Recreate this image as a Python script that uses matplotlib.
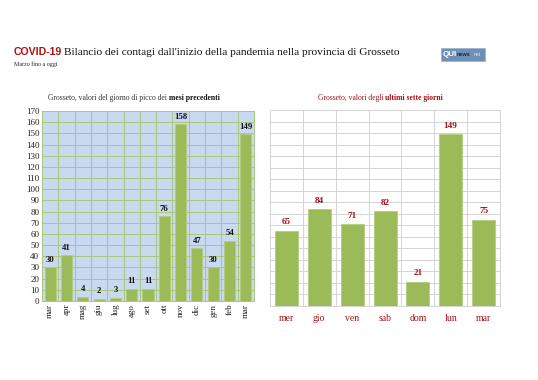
import matplotlib
matplotlib.use("Agg")
import matplotlib.pyplot as plt
import numpy as np
from matplotlib.patches import FancyBboxPatch

months = ["mar", "apr", "mag", "giu", "lug", "ago", "set", "ott", "nov", "dic", "gen", "feb", "mar"]
month_vals = [30, 41, 4, 2, 3, 11, 11, 76, 158, 47, 30, 54, 149]
days = ["mer", "gio", "ven", "sab", "dom", "lun", "mar"]
day_vals = [65, 84, 71, 82, 21, 149, 75]
yticks = list(range(0, 171, 10))

serif = "Liberation Serif"
bar_c = "#9bbb59"
red = "#a50f15"

fig = plt.figure(figsize=(5.38, 3.8), dpi=100)
fig.patch.set_facecolor("white")

# Titles
fig.text(14/538, 1-55/380, "COVID-19", fontsize=7.6, fontweight="bold", color="#b01010",
         family="Liberation Sans", va="baseline")
fig.text(64/538, 1-55/380, "Bilancio dei contagi dall'inizio della pandemia nella provincia di Grosseto",
         fontsize=8.2, family=serif, color="#111111", va="baseline")
fig.text(14/538, 1-66/380, "Marzo fino a oggi", fontsize=4.3, family=serif, color="#222222", va="baseline")

# logo
lx, ly, lw, lh = 441/538, 1-61/380, 44/538, 13/380
fig.patches.append(FancyBboxPatch((lx, ly), lw, lh, boxstyle="square,pad=0", transform=fig.transFigure,
                                  facecolor="#6f8fb8", edgecolor="#9fb3cf", lw=0.6))
fig.text(lx+1.5/538, ly+lh/2, "QUI", fontsize=5.8, fontweight="bold", color="white", va="center",
         family="Liberation Sans")
fig.text(lx+15.5/538, ly+lh/2, "news", fontsize=4.0, fontweight="bold", color="#1a2a4a", va="center",
         family="Liberation Sans")
fig.text(lx+32.5/538, ly+lh/2, "net", fontsize=3.6, color="#dde6f2", va="center", family="Liberation Sans")

# Left chart
ax1 = fig.add_axes([42/538, 1-301/380, 212/538, 190/380])
x1 = np.arange(len(months))
ax1.set_facecolor("#c9d9f0")
ax1.bar(x1, month_vals, width=0.68, color=bar_c, edgecolor="#b5cc7e", linewidth=0.6, zorder=3)
ax1.set_xlim(-0.5, len(months)-0.5)
ax1.set_ylim(0, 170)
ax1.set_yticks(yticks)
ax1.set_yticklabels([str(v) for v in yticks], family=serif, fontsize=6.5, color="#222222")
ax1.set_xticks(x1)
ax1.set_xticklabels(months, rotation=90, family=serif, fontsize=6.5, color="#222222")
for y in yticks[1:]:
    ax1.axhline(y, color="#a9c77a", lw=0.7, zorder=1)
for b in np.arange(0.5, len(months)-0.5, 1):
    ax1.axvline(b, color="#a9c77a", lw=0.7, zorder=1)
for s in ax1.spines.values():
    s.set_color("#a9c77a")
    s.set_linewidth(0.7)
ax1.tick_params(length=0, pad=2)
for xi, v in zip(x1, month_vals):
    ax1.text(xi, v + 3, str(v), ha="center", va="bottom", fontsize=6.3, fontweight="bold",
             family=serif, color="#111111", zorder=4)
fig.text(169/538, 1-98/380, "Grosseto, valori del giorno di picco dei ", fontsize=5.5, family=serif,
         color="#333333", ha="right", va="center")
fig.text(169/538, 1-98/380, "mesi precedenti", fontsize=5.5, family=serif, fontweight="bold",
         color="#111111", ha="left", va="center")

# Right chart
ax2 = fig.add_axes([270/538, 1-306/380, 230/538, 196/380])
x2 = np.arange(len(days))
ax2.set_facecolor("white")
ax2.bar(x2, day_vals, width=0.7, color=bar_c, edgecolor="#b5cc7e", linewidth=0.6, zorder=3)
ax2.set_xlim(-0.5, len(days)-0.5)
ax2.set_ylim(0, 170)
ax2.set_yticks(yticks)
ax2.set_yticklabels([])
ax2.set_xticks(x2)
ax2.set_xticklabels(days, family=serif, fontsize=7, color=red)
for y in yticks[1:]:
    ax2.axhline(y, color="#d4d4d4", lw=0.7, zorder=1)
for b in np.arange(0.5, len(days)-0.5, 1):
    ax2.axvline(b, color="#d4d4d4", lw=0.7, zorder=1)
for s in ax2.spines.values():
    s.set_color("#d4d4d4")
    s.set_linewidth(0.7)
ax2.tick_params(length=0, pad=6)
for xi, v in zip(x2, day_vals):
    ax2.text(xi, v + 4, str(v), ha="center", va="bottom", fontsize=6.6, fontweight="bold",
             family=serif, color=red, zorder=4)
fig.text(385/538, 1-98/380, "Grosseto, valori degli ", fontsize=5.5, family=serif,
         color=red, ha="right", va="center")
fig.text(385/538, 1-98/380, "ultimi sette giorni", fontsize=5.5, family=serif, fontweight="bold",
         color=red, ha="left", va="center")

fig.savefig("out.png", dpi=100, facecolor="white")
